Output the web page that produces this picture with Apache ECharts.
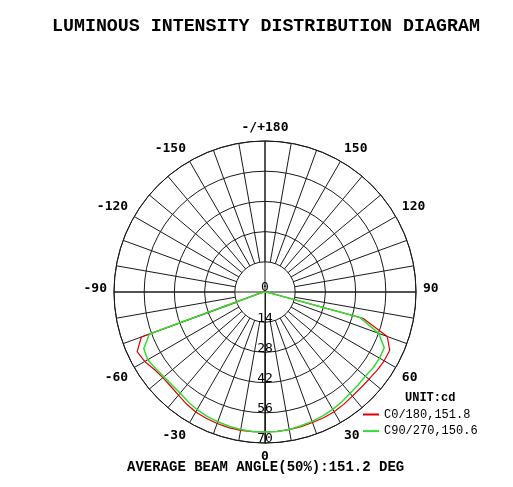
<!DOCTYPE html>
<html>
<head>
<meta charset="utf-8">
<script src="https://cdn.jsdelivr.net/npm/echarts@6/dist/echarts.min.js"></script>
<style>
html,body{margin:0;padding:0;background:#fff;}
#chart{width:513px;height:487px;}
</style>
</head>
<body>
<div id="chart"></div>
<script>
// Gamma angles (deg) of the measured points
const angles = [-90,-85,-80,-75,-70,-65,-60,-55,-50,-45,-40,-35,-30,-25,-20,-15,-10,-5,0,
                5,10,15,20,25,30,35,40,45,50,55,60,65,70,75,80,85,90];
// C0/180 plane intensities (cd)
const c0Values = [0,0.5,1,3,61,65.4,64.4,62.6,61.8,61.8,62.4,63.4,64.2,64.6,64.9,65.1,65.1,65.0,64.9,
                  64.9,64.8,64.6,64.4,64.3,64.1,63.6,63.0,62.8,62.9,63.4,63.8,63.8,60.3,47,2,1,0];
// C90/270 plane intensities (cd)
const c90Values = [0,0.5,1,3,57,62.0,62.8,61.9,61.2,61.0,61.2,62.1,63.0,63.6,64.0,64.4,64.7,64.9,64.9,
                   64.9,64.7,64.2,63.8,63.4,62.8,62.1,61.3,61.0,60.7,61.2,61.3,61.0,56.1,45.5,2,1,0];
const seriesNames = ['C0/180,151.8', 'C90/270,150.6'];
const ringMax = 70;
const ringStep = 14;
const angleLabelStep = 30;
const spokeStep = 10;
const titleText = 'LUMINOUS INTENSITY DISTRIBUTION DIAGRAM';
const beamText = 'AVERAGE BEAM ANGLE(50%):151.2 DEG';
const unitText = 'UNIT:cd';

const FONT = 'Liberation Mono, Courier New, monospace';
const AXFONT = 'DejaVu Sans Mono, monospace';
const CX = 265, CY = 292, R = 151;
const GRID = '#1a1a1a';

function toPolar(vals) {
  return angles.map((a, i) => [vals[i], (a + 360) % 360]);
}
function angleLabel(v) {
  let t;
  if (v === 180) t = '-/+180';
  else if (v >= 360) t = '0';
  else t = v > 180 ? String(v - 360) : String(v);
  if (v === 90 || v === 270) return '{h|' + t + '}';
  return t;
}

const chart = echarts.init(document.getElementById('chart'), null, {renderer: 'canvas'});
chart.setOption({
  animation: false,
  backgroundColor: '#fff',
  title: [
    {text: titleText, left: 52, top: 17, padding: 0,
     textStyle: {fontFamily: FONT, fontSize: 18.3, fontWeight: 'bold', color: '#000'}},
    {text: beamText, left: 127, top: 460, padding: 0,
     textStyle: {fontFamily: FONT, fontSize: 14, fontWeight: 'bold', color: '#000'}},
    {text: unitText, left: 405, top: 392, padding: 0,
     textStyle: {fontFamily: FONT, fontSize: 12, fontWeight: 'bold', color: '#000'}}
  ],
  legend: {
    orient: 'vertical', left: 357, top: 403.5,
    itemWidth: 16, itemHeight: 14, itemGap: 4.6,
    itemStyle: {opacity: 0},
    textStyle: {fontFamily: FONT, fontSize: 12, color: '#000'},
    data: seriesNames
  },
  polar: [
    {center: [CX, CY], radius: [0, R]},
    {center: [CX, CY], radius: [R * ringStep / ringMax, R]},
    {center: [CX, CY], radius: [0, R]}
  ],
  angleAxis: [
    {polarIndex: 0, type: 'value', min: 0, max: 360, interval: angleLabelStep,
     startAngle: 270, clockwise: false,
     axisLine: {show: true, lineStyle: {color: GRID, width: 1}},
     axisTick: {show: false},
     splitLine: {show: false},
     axisLabel: {margin: 7, formatter: angleLabel, color: '#000',
                 fontFamily: AXFONT, fontSize: 13, fontWeight: 'bold',
                 rich: {h: {fontFamily: AXFONT, fontSize: 13, fontWeight: 'bold', color: '#000', padding: [0, 0, 7, 0]}}}},
    {polarIndex: 1, type: 'value', min: 0, max: 360, interval: spokeStep,
     startAngle: 270, clockwise: false,
     axisLine: {show: false}, axisTick: {show: false}, axisLabel: {show: false},
     splitLine: {show: true, lineStyle: {color: GRID, width: 1}}},
    {polarIndex: 2, type: 'value', min: 0, max: 360, interval: 90,
     startAngle: 270, clockwise: false,
     axisLine: {show: false}, axisTick: {show: false}, axisLabel: {show: false},
     splitLine: {show: true, lineStyle: {color: GRID, width: 1}}}
  ],
  radiusAxis: [
    {polarIndex: 0, type: 'value', min: 0, max: ringMax, interval: ringStep,
     axisLine: {show: true, lineStyle: {color: GRID, width: 1}},
     axisTick: {show: false},
     splitLine: {show: true, lineStyle: {color: GRID, width: 1}},
     axisLabel: {margin: 0, align: 'center', verticalAlign: 'bottom', lineHeight: 8, color: '#000',
                 fontFamily: AXFONT, fontSize: 13}},
    {polarIndex: 1, type: 'value', min: 0, max: 1,
     axisLine: {show: false}, axisTick: {show: false}, axisLabel: {show: false}, splitLine: {show: false}},
    {polarIndex: 2, type: 'value', min: 0, max: 1,
     axisLine: {show: false}, axisTick: {show: false}, axisLabel: {show: false}, splitLine: {show: false}}
  ],
  series: [
    {name: seriesNames[0], type: 'line', coordinateSystem: 'polar', polarIndex: 0,
     symbol: 'none', smooth: false, clip: false,
     lineStyle: {color: '#e00000', width: 1.2}, itemStyle: {color: '#e00000'},
     data: toPolar(c0Values)},
    {name: seriesNames[1], type: 'line', coordinateSystem: 'polar', polarIndex: 0,
     symbol: 'none', smooth: false, clip: false,
     lineStyle: {color: '#33dd33', width: 1.5}, itemStyle: {color: '#33dd33'},
     data: toPolar(c90Values)}
  ]
});
</script>
</body>
</html>
